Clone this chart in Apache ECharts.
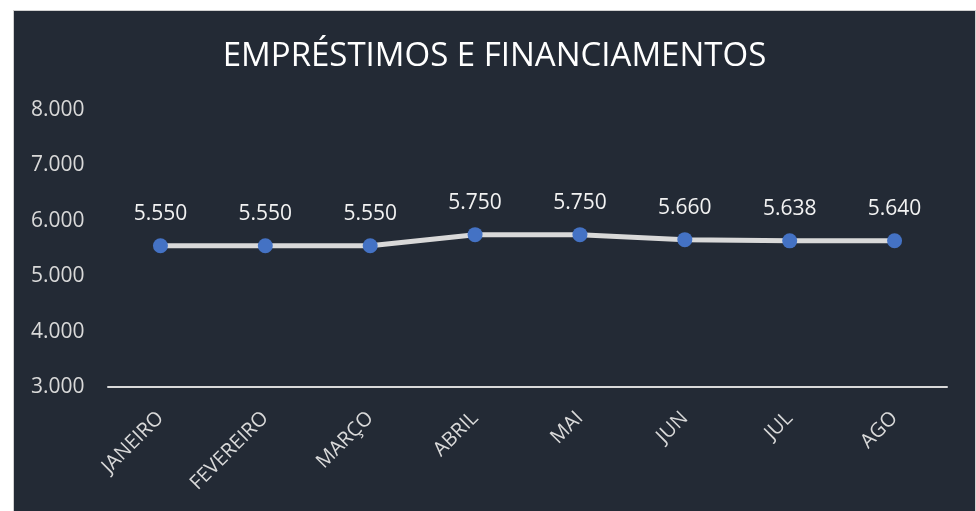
<!DOCTYPE html>
<html>
<head>
<meta charset="utf-8">
<script src="https://cdn.jsdelivr.net/npm/echarts@6/dist/echarts.min.js"></script>
<style>
  html, body { margin: 0; padding: 0; background: #ffffff; }
  #echart {
    position: absolute;
    left: 13px;
    top: 10px;
    width: 963px;
    height: 510px;
    box-sizing: border-box;
    border: 1px solid #d0d0d0;
    background: #232a35;
  }
</style>
</head>
<body>
<div id="echart"></div>
<script>
// dados do gráfico
const meses = ['JANEIRO', 'FEVEREIRO', 'MARÇO', 'ABRIL', 'MAI', 'JUN', 'JUL', 'AGO']
const valores = [5550, 5550, 5550, 5750, 5750, 5660, 5638, 5640]
const titulo = 'EMPRÉSTIMOS E FINANCIAMENTOS'

// formato pt-BR com ponto de milhar: 5.550
const fmtMil = v => {
  const s = String(Math.round(v))
  return s.replace(/\B(?=(\d{3})+(?!\d))/g, '.')
}

const myChart = echarts.init(document.getElementById('echart'))
const option = {
  backgroundColor: '#232a35',
  textStyle: { fontFamily: 'Open Sans' },
  title: {
    text: titulo,
    left: 'center',
    top: 24,
    textStyle: {
      color: '#ffffff',
      fontSize: 33,
      fontWeight: 'normal',
      fontFamily: 'Open Sans'
    }
  },
  grid: {
    left: 94,
    right: 28,
    top: 99,
    height: 277
  },
  xAxis: {
    type: 'category',
    data: meses,
    boundaryGap: true,
    axisTick: { show: false },
    axisLine: { lineStyle: { color: '#d9d9d9', width: 2 } },
    axisLabel: {
      rotate: 45,
      interval: 0,
      margin: 28,
      color: '#d9d9d9',
      fontSize: 20
    }
  },
  yAxis: {
    type: 'value',
    min: 3000,
    max: 8000,
    interval: 1000,
    axisLine: { show: false },
    axisTick: { show: false },
    splitLine: { show: false },
    axisLabel: {
      align: 'left',
      margin: 77,
      color: '#d9d9d9',
      fontSize: 21,
      formatter: v => fmtMil(v)
    }
  },
  series: [{
    type: 'line',
    data: valores,
    symbol: 'circle',
    symbolSize: 15,
    lineStyle: { color: '#d9d9d9', width: 5 },
    itemStyle: { color: '#4472c4' },
    label: {
      show: true,
      position: 'top',
      distance: 14,
      color: '#f2f2f2',
      fontSize: 21,
      formatter: p => fmtMil(p.value)
    },
    animation: false
  }]
}
myChart.setOption(option)
</script>
</body>
</html>
